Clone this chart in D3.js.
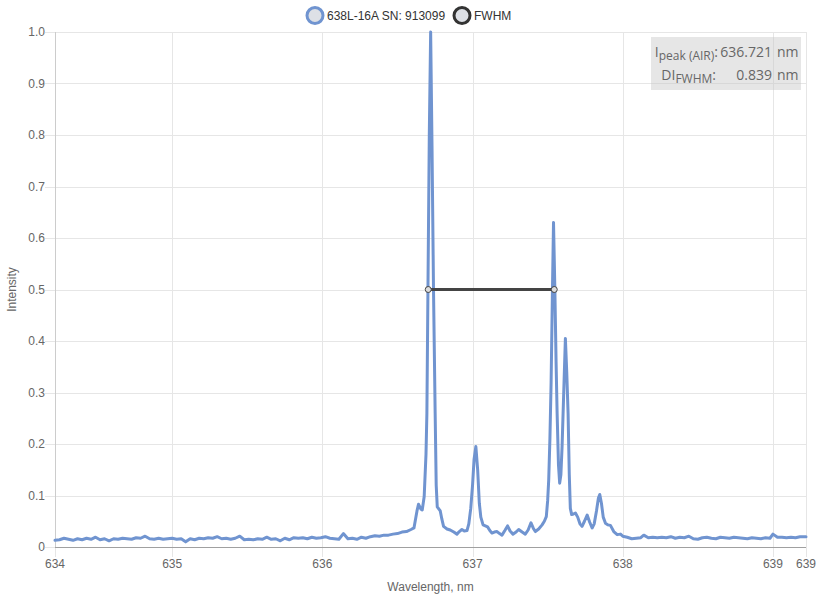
<!DOCTYPE html>
<html>
<head>
<meta charset="utf-8">
<script src="https://cdn.jsdelivr.net/npm/d3@7"></script>
<style>
	body { margin: 0; background: #ffffff; }
	svg { font-family: "Liberation Sans", Arial, sans-serif; }
	.grid line { stroke: #e6e6e6; stroke-width: 1px; }
	.tick-label { fill: #666666; font-size: 12px; }
	.axis-title { fill: #666666; font-size: 12px; }
	.legend-text { fill: #333333; font-size: 12px; }
	.info { fill: #666666; font-family: "Open Sans", sans-serif; font-size: 14px; }
</style>
</head>
<body>
<svg id="spectrum-plot" width="820" height="600" viewBox="0 0 820 600"></svg>
<script>
// series names
const series_name = "638L-16A SN: 913099";
const fwhm_name = "FWHM";

// spectrum: [wavelength nm, normalized intensity]
const spectrum = [
	[634.22, 0.013], [634.25, 0.014], [634.28, 0.017], [634.31, 0.015], [634.34, 0.013], [634.37, 0.016],
	[634.40, 0.014], [634.43, 0.017], [634.46, 0.015], [634.49, 0.019], [634.52, 0.014], [634.55, 0.016],
	[634.58, 0.012], [634.61, 0.016], [634.64, 0.015], [634.67, 0.017], [634.70, 0.016], [634.73, 0.015],
	[634.76, 0.018], [634.79, 0.017], [634.82, 0.021], [634.85, 0.016], [634.88, 0.015], [634.91, 0.017],
	[634.94, 0.015], [634.97, 0.016], [635.00, 0.017], [635.03, 0.015], [635.06, 0.016], [635.09, 0.010],
	[635.12, 0.016], [635.15, 0.014], [635.18, 0.017], [635.21, 0.016], [635.24, 0.018], [635.27, 0.017],
	[635.30, 0.020], [635.33, 0.016], [635.36, 0.017], [635.39, 0.015], [635.42, 0.017], [635.45, 0.021],
	[635.48, 0.014], [635.51, 0.015], [635.54, 0.014], [635.57, 0.016], [635.60, 0.015], [635.63, 0.019],
	[635.66, 0.015], [635.69, 0.016], [635.72, 0.012], [635.75, 0.017], [635.78, 0.014], [635.81, 0.018],
	[635.84, 0.017], [635.87, 0.018], [635.90, 0.016], [635.93, 0.019], [635.96, 0.017], [635.99, 0.018],
	[636.02, 0.020], [636.05, 0.017], [636.08, 0.016], [636.11, 0.015], [636.14, 0.026], [636.17, 0.016],
	[636.20, 0.017], [636.23, 0.015], [636.26, 0.019], [636.29, 0.017], [636.32, 0.020], [636.35, 0.022],
	[636.38, 0.021], [636.41, 0.023], [636.44, 0.023], [636.47, 0.025], [636.50, 0.026], [636.53, 0.029],
	[636.56, 0.030], [636.59, 0.034], [636.61, 0.037], [636.63, 0.070], [636.64, 0.083], [636.655, 0.074],
	[636.665, 0.072], [636.678, 0.098], [636.69, 0.18], [636.696, 0.26], [636.703, 0.50], [636.712, 0.80],
	[636.721, 1.0], [636.73, 0.78], [636.74, 0.50], [636.751, 0.26], [636.758, 0.12], [636.765, 0.078],
	[636.775, 0.074], [636.785, 0.070], [636.795, 0.055], [636.807, 0.040], [636.83, 0.035], [636.851, 0.033],
	[636.875, 0.029], [636.896, 0.025], [636.912, 0.030], [636.929, 0.034], [636.945, 0.031], [636.963, 0.032],
	[636.975, 0.045], [636.988, 0.075], [637.00, 0.12], [637.01, 0.17], [637.022, 0.195], [637.034, 0.15],
	[637.045, 0.085], [637.055, 0.058], [637.07, 0.043], [637.085, 0.041], [637.10, 0.039], [637.115, 0.032],
	[637.129, 0.027], [637.145, 0.029], [637.163, 0.030], [637.18, 0.026], [637.196, 0.023], [637.215, 0.032],
	[637.233, 0.041], [637.25, 0.031], [637.269, 0.025], [637.29, 0.029], [637.307, 0.034], [637.33, 0.029],
	[637.351, 0.025], [637.37, 0.033], [637.389, 0.047], [637.405, 0.036], [637.418, 0.030], [637.44, 0.035],
	[637.463, 0.043], [637.478, 0.050], [637.491, 0.059], [637.50, 0.09], [637.507, 0.13], [637.515, 0.21],
	[637.523, 0.32], [637.532, 0.50], [637.539, 0.63], [637.548, 0.50], [637.556, 0.36], [637.563, 0.26],
	[637.572, 0.16], [637.58, 0.124], [637.588, 0.14], [637.596, 0.195], [637.607, 0.30], [637.618, 0.405],
	[637.627, 0.34], [637.636, 0.26], [637.644, 0.14], [637.651, 0.075], [637.66, 0.063], [637.672, 0.064],
	[637.685, 0.066], [637.70, 0.058], [637.715, 0.045], [637.729, 0.040], [637.745, 0.050], [637.763, 0.062],
	[637.78, 0.048], [637.796, 0.037], [637.81, 0.045], [637.825, 0.070], [637.838, 0.095], [637.847, 0.102],
	[637.858, 0.085], [637.87, 0.058], [637.885, 0.046], [637.90, 0.043], [637.918, 0.042], [637.94, 0.030],
	[637.963, 0.024], [637.985, 0.025], [638.00, 0.021], [638.03, 0.019], [638.06, 0.016], [638.09, 0.017],
	[638.12, 0.018], [638.14, 0.023], [638.17, 0.018], [638.20, 0.019], [638.23, 0.018], [638.26, 0.019],
	[638.29, 0.018], [638.32, 0.020], [638.35, 0.017], [638.38, 0.019], [638.41, 0.018], [638.44, 0.021],
	[638.47, 0.016], [638.50, 0.015], [638.53, 0.018], [638.56, 0.019], [638.59, 0.017], [638.62, 0.016],
	[638.65, 0.019], [638.68, 0.018], [638.71, 0.017], [638.74, 0.019], [638.77, 0.018], [638.80, 0.017],
	[638.83, 0.016], [638.86, 0.018], [638.89, 0.017], [638.92, 0.016], [638.95, 0.018], [638.98, 0.017],
	[639.00, 0.025], [639.03, 0.019], [639.06, 0.019], [639.09, 0.018], [639.12, 0.019], [639.15, 0.018],
	[639.18, 0.020], [639.22, 0.020]
];

// FWHM segment end points
const fwhm_points = [[636.705, 0.5], [637.544, 0.5]];

// axis ticks
const x_domain = [634.22, 639.22];
const x_ticks = [634.22, 635, 636, 637, 638, 639, 639.22];
const y_ticks = [0, 0.1, 0.2, 0.3, 0.4, 0.5, 0.6, 0.7, 0.8, 0.9, 1.0];

// info box values
const peak_wavelength = 636.721;
const fwhm_width = 0.839;

class SpectrumPlot {

	constructor(svg_element_id) {
		this.svg = d3.select('#' + svg_element_id);

		const plot_left = 55, plot_right = 806, plot_top = 32, plot_bottom = 547;

		const x = d3.scaleLinear().domain(x_domain).range([plot_left, plot_right]);
		const y = d3.scaleLinear().domain([0, 1]).range([plot_bottom, plot_top]);

		// grid lines + small ticks (drawn through the axis)
		const grid = this.svg.append('g').classed('grid', true);

		grid.selectAll('.hgrid')
			.data(y_ticks)
			.enter().append('line')
			.attr('x1', plot_left - 10)
			.attr('x2', plot_right)
			.attr('y1', d => Math.round(y(d)) + 0.5)
			.attr('y2', d => Math.round(y(d)) + 0.5);

		grid.selectAll('.vgrid')
			.data(x_ticks)
			.enter().append('line')
			.attr('x1', d => Math.round(x(d)) + 0.5)
			.attr('x2', d => Math.round(x(d)) + 0.5)
			.attr('y1', plot_top)
			.attr('y2', plot_bottom + 10);

		// axis lines
		this.svg.append('line')
			.attr('x1', plot_left + 0.5).attr('x2', plot_left + 0.5)
			.attr('y1', plot_top).attr('y2', plot_bottom)
			.style('stroke', '#cccccc');
		this.svg.append('line')
			.attr('x1', plot_left).attr('x2', plot_right)
			.attr('y1', plot_bottom + 0.5).attr('y2', plot_bottom + 0.5)
			.style('stroke', '#a0a0a0');

		// tick labels
		const y_format = d => d === 0 ? "0" : d3.format(".1f")(d);
		this.svg.selectAll('.y-label')
			.data(y_ticks)
			.enter().append('text')
			.classed('tick-label', true)
			.attr('x', plot_left - 10)
			.attr('y', d => y(d) + 4)
			.attr('text-anchor', 'end')
			.text(y_format);

		this.svg.selectAll('.x-label')
			.data(x_ticks)
			.enter().append('text')
			.classed('tick-label', true)
			.attr('x', d => x(d))
			.attr('y', plot_bottom + 21)
			.attr('text-anchor', 'middle')
			.text(d3.format(".0f"));

		// axis titles
		this.svg.append('text')
			.classed('axis-title', true)
			.attr('text-anchor', 'middle')
			.attr('transform', 'translate(16,' + (plot_top + plot_bottom) / 2 + ') rotate(-90)')
			.text('Intensity');

		this.svg.append('text')
			.classed('axis-title', true)
			.attr('text-anchor', 'middle')
			.attr('x', (plot_left + plot_right) / 2)
			.attr('y', 591)
			.text('Wavelength, nm');

		// spectrum line
		const line = d3.line()
			.x(d => x(d[0]))
			.y(d => y(d[1]));

		this.svg.append('path')
			.datum(spectrum)
			.attr('d', line)
			.style('fill', 'none')
			.style('stroke', '#7094d0')
			.style('stroke-width', 3)
			.style('stroke-linejoin', 'round')
			.style('stroke-linecap', 'round');

		// FWHM segment
		this.svg.append('path')
			.datum(fwhm_points)
			.attr('d', line)
			.style('fill', 'none')
			.style('stroke', '#444444')
			.style('stroke-width', 3);

		this.svg.selectAll('.fwhm-point')
			.data(fwhm_points)
			.enter().append('circle')
			.attr('cx', d => x(d[0]))
			.attr('cy', d => y(d[1]))
			.attr('r', 3)
			.style('fill', '#dddddd')
			.style('stroke', '#444444')
			.style('stroke-width', 1);

		// info box (top right)
		const info = this.svg.append('g');
		info.append('rect')
			.attr('x', 651).attr('y', 37)
			.attr('width', 150).attr('height', 53)
			.style('fill', 'rgb(200,200,200)')
			.style('fill-opacity', 0.45);

		const line1 = info.append('text').classed('info', true)
			.attr('x', 718).attr('y', 57).attr('text-anchor', 'end');
		line1.append('tspan').text('I');
		line1.append('tspan').attr('dy', 3).style('font-size', '12px').text('peak (AIR)');
		line1.append('tspan').attr('dy', -3).text(':');

		const line2 = info.append('text').classed('info', true)
			.attr('x', 716).attr('y', 80).attr('text-anchor', 'end');
		line2.append('tspan').text('DI');
		line2.append('tspan').attr('dy', 3).style('font-size', '12px').text('FWHM');
		line2.append('tspan').attr('dy', -3).text(':');

		info.selectAll('.info-value')
			.data([peak_wavelength.toFixed(3), fwhm_width.toFixed(3)])
			.enter().append('text')
			.classed('info', true)
			.attr('x', 772)
			.attr('y', (d, i) => 57 + i * 23)
			.attr('text-anchor', 'end')
			.text(d => d);

		info.selectAll('.info-unit')
			.data(['nm', 'nm'])
			.enter().append('text')
			.classed('info', true)
			.attr('x', 777)
			.attr('y', (d, i) => 57 + i * 23)
			.text(d => d);

		// legend
		const legend_items = [
			{name: series_name, color: '#7094d0', x: 315},
			{name: fwhm_name, color: '#333333', x: 462}
		];
		const legend = this.svg.append('g');
		legend.selectAll('circle')
			.data(legend_items)
			.enter().append('circle')
			.attr('cx', d => d.x)
			.attr('cy', 15.5)
			.attr('r', 8)
			.style('fill', '#dde0e6')
			.style('stroke', d => d.color)
			.style('stroke-width', 3);
		legend.selectAll('text')
			.data(legend_items)
			.enter().append('text')
			.classed('legend-text', true)
			.attr('x', d => d.x + 12)
			.attr('y', 20)
			.text(d => d.name);
	}
}

function whenDocumentLoaded(action) {
	if (document.readyState === "loading") {
		document.addEventListener("DOMContentLoaded", action);
	} else {
		action();
	}
}

whenDocumentLoaded(() => {
	plot_object = new SpectrumPlot('spectrum-plot');
});
</script>
</body>
</html>
